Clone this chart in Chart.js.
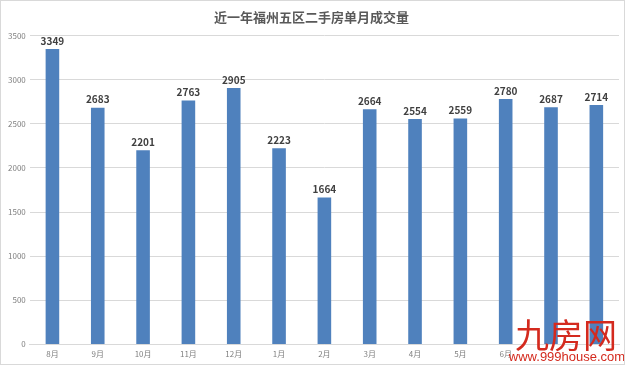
<!DOCTYPE html>
<html>
<head>
<meta charset="utf-8">
<script src="https://cdn.jsdelivr.net/npm/chart.js@4.4.1/dist/chart.umd.min.js"></script>
<style>
  html, body { margin: 0; padding: 0; background: #fff; }
  .wrap { position: relative; width: 623px; height: 363px; border: 1px solid #d9d9d9; }
</style>
</head>
<body>
<div class="wrap"><canvas id="chart" width="623" height="363"></canvas></div>
<script>
// data
const months = ['8月', '9月', '10月', '11月', '12月', '1月', '2月', '3月', '4月', '5月', '6月', '7月', '8月'];
const deals = [3349, 2683, 2201, 2763, 2905, 2223, 1664, 2664, 2554, 2559, 2780, 2687, 2714];

const CJK = '"Noto Sans CJK SC", "Noto Sans", sans-serif';

// value labels above the bars
const valueLabels = {
  id: 'valueLabels',
  afterDatasetsDraw(chart) {
    const ctx = chart.ctx;
    const meta = chart.getDatasetMeta(0);
    ctx.save();
    ctx.font = 'bold 10px ' + CJK;
    ctx.fillStyle = '#404040';
    ctx.textAlign = 'center';
    ctx.textBaseline = 'bottom';
    meta.data.forEach((bar, i) => {
      ctx.fillText(deals[i], bar.x, bar.y - 3);
    });
    ctx.restore();
  }
};

// site watermark bottom right
const watermark = {
  id: 'watermark',
  afterDraw(chart) {
    const ctx = chart.ctx;
    ctx.save();
    ctx.fillStyle = '#fff';
    ctx.fillRect(512, 349, 108, 13);
    ctx.fillStyle = '#d42a1e';
    ctx.textAlign = 'center';
    ctx.font = '34px ' + CJK;
    ctx.textBaseline = 'alphabetic';
    ctx.fillText('九房网', 565, 347);
    ctx.font = '13px "Liberation Sans", sans-serif';
    ctx.fillText('www.999house.com', 566, 360);
    ctx.restore();
  }
};

const ctx = document.getElementById('chart').getContext('2d');
const chart = new Chart(ctx, {
  type: 'bar',
  data: {
    labels: months,
    datasets: [{
      data: deals,
      backgroundColor: '#4f81bd',
      barPercentage: 0.6,
      categoryPercentage: 0.5
    }]
  },
  options: {
    responsive: false,
    animation: false,
    layout: { padding: { left: 3, right: 5, top: 0, bottom: 0 } },
    plugins: {
      legend: { display: false },
      tooltip: { enabled: false },
      title: {
        display: true,
        text: '近一年福州五区二手房单月成交量',
        color: '#595959',
        font: { family: CJK, size: 13, weight: 'bold' },
        padding: { top: 8, bottom: 11 }
      }
    },
    scales: {
      x: {
        grid: { display: false, drawTicks: false },
        border: { display: true, color: '#d9d9d9' },
        ticks: { color: '#7f7f7f', font: { family: CJK, size: 8 }, padding: 5, maxRotation: 0 }
      },
      y: {
        min: 0,
        max: 3500,
        ticks: {
          stepSize: 500,
          color: '#7f7f7f',
          font: { family: CJK, size: 8 },
          padding: 4,
          callback: v => String(v)
        },
        grid: { color: '#d9d9d9', drawTicks: false },
        border: { display: false }
      }
    }
  },
  plugins: [valueLabels, watermark]
});
</script>
</body>
</html>
